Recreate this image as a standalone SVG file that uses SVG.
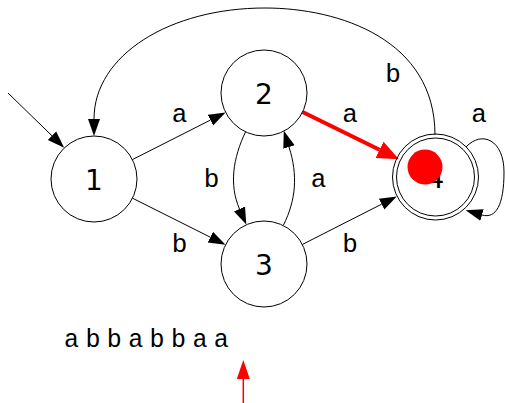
<svg xmlns="http://www.w3.org/2000/svg" width="505" height="403" viewBox="0 0 505 403">
<style>
.node circle{fill:none;stroke:#000;stroke-width:1}
.nl{font-family:"DejaVu Sans",sans-serif;font-size:28px;text-anchor:middle;fill:#000}
.el{font-family:"Liberation Mono",monospace;font-size:26px;text-anchor:middle;fill:#000}
.e{fill:none;stroke:#000;stroke-width:1;marker-end:url(#ah)}
.tape{font-family:"Liberation Mono",monospace;font-size:25px;fill:#000}
</style>
<defs>
<marker id="ah" viewBox="0 -7 18 14" markerWidth="18" markerHeight="14" refX="0" refY="0" orient="auto" markerUnits="userSpaceOnUse">
<path d="M0,-6 L17,0 L0,6 z" fill="#000"/>
</marker>
<marker id="ahr" viewBox="0 -10 22 20" markerWidth="22" markerHeight="20" refX="0" refY="0" orient="auto" markerUnits="userSpaceOnUse">
<path d="M1,-7.5 L19,0 L1,7.5 z" fill="red" stroke="red" stroke-width="2"/>
</marker>
<marker id="ahs" viewBox="0 -8 20 16" markerWidth="20" markerHeight="16" refX="0" refY="0" orient="auto" markerUnits="userSpaceOnUse">
<path d="M0,-6.5 L19,0 L0,6.5 z" fill="red"/>
</marker>
</defs>
<g id="edges">
<path class="e" d="M8,93 L52,135.8"/>
<path class="e" d="M132.4,159.6 L210.4,120.1"/>
<path class="e" d="M132.5,198.2 L210.3,237.2"/>
<path class="e" d="M302.3,244.5 L381.6,204.2"/>
<path class="e" d="M245.5,132 C233,158 229,185 239.5,209"/>
<path class="e" d="M283.5,225 C296,200 298,175 289,147"/>
<path class="e" d="M435,135 C435,40 340,8 265,8 C170,8 94,55 94,119"/>
<path class="e" d="M466,147 C482,130 504,140 504,172 C504,205 496,219 482,215"/>
<path d="M302.6,112 L379.5,149.8" fill="none" stroke="red" stroke-width="4" marker-end="url(#ahr)"/>
<text class="el" x="179.5" y="122">a</text>
<text class="el" x="350" y="122">a</text>
<text class="el" x="479" y="122">a</text>
<text class="el" x="393" y="82">b</text>
<text class="el" x="211.5" y="187">b</text>
<text class="el" x="318.5" y="187">a</text>
<text class="el" x="179.5" y="252">b</text>
<text class="el" x="350" y="252">b</text>
</g>
<g id="node1" class="node"><circle cx="94" cy="179" r="43"/><text class="nl" x="94" y="189.5">1</text></g>
<g id="node2" class="node"><circle cx="264" cy="93" r="43"/><text class="nl" x="264" y="103.5">2</text></g>
<g id="node3" class="node"><circle cx="264" cy="264" r="43"/><text class="nl" x="264" y="274.5">3</text></g>
<g id="node4" class="node"><circle cx="435.5" cy="177" r="43"/><circle cx="435.5" cy="177" r="39"/><text class="nl" x="435.5" y="187.5">4</text></g>
<g id="marker-dot"><circle cx="425" cy="167" r="17.5" fill="red"/></g>
<g id="tape">
<text class="tape" x="64" y="347" word-spacing="-8.6">a b b a b b a a</text>
<path d="M243.3,403 L243.3,379" fill="none" stroke="red" stroke-width="1.5" marker-end="url(#ahs)"/>
</g>
</svg>
